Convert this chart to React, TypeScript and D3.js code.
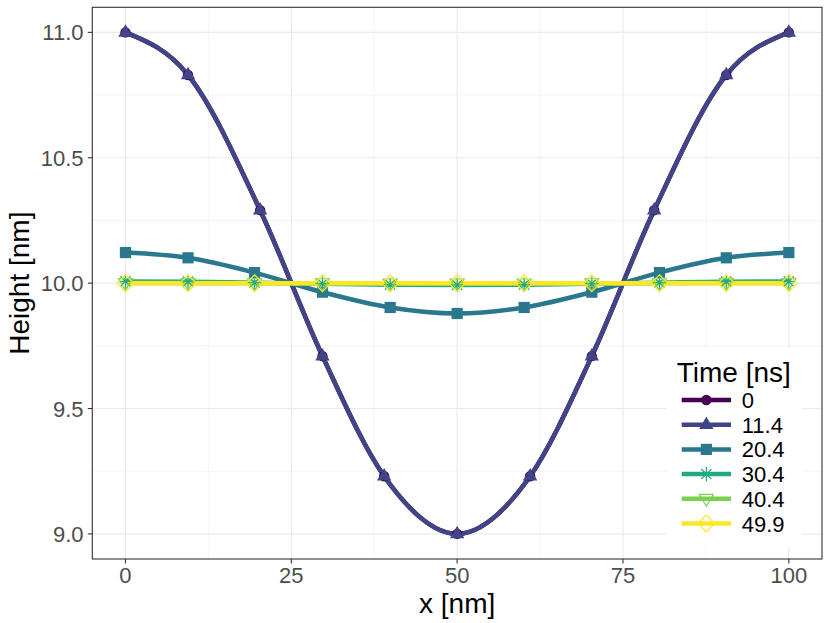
import React from "react";
import * as d3 from "d3";

// ---- data ----
const seriesLabels = ["0", "11.4", "20.4", "30.4", "40.4", "49.9"];
const seriesColors = ["#440154", "#414487", "#2A788E", "#22A884", "#7AD151", "#FDE725"];
const seriesShapes = ["circle", "triangle", "square", "asterisk", "triangleDown", "diamond"];

const xA = [0, 9.43, 20.3, 29.7, 39.0, 50, 61.0, 70.3, 79.7, 90.57, 100];
const xB = [0, 9.43, 19.45, 29.7, 39.9, 50, 60.1, 70.3, 80.5, 90.57, 100];

const h0 = [11.0, 10.83, 10.291, 9.709, 9.23, 9.0, 9.23, 9.709, 10.291, 10.83, 11.0];
const h11 = [11.0, 10.83, 10.291, 9.709, 9.23, 9.0, 9.23, 9.709, 10.291, 10.83, 11.0];
const h20 = [10.122, 10.101, 10.042, 9.964, 9.903, 9.879, 9.903, 9.964, 10.042, 10.101, 10.122];
const h30 = [10.007, 10.006, 10.002, 9.998, 9.994, 9.993, 9.994, 9.998, 10.002, 10.006, 10.007];
const h40 = [10.001, 10.001, 10.0, 10.0, 9.999, 9.999, 9.999, 10.0, 10.0, 10.001, 10.001];
const h49 = [10.0, 10.0, 10.0, 10.0, 10.0, 10.0, 10.0, 10.0, 10.0, 10.0, 10.0];

const seriesX = [xA, xA, xB, xB, xB, xB];
const seriesY = [h0, h11, h20, h30, h40, h49];

const xTicks = [0, 25, 50, 75, 100];
const xMinor = [12.5, 37.5, 62.5, 87.5];
const yTicks = [9.0, 9.5, 10.0, 10.5, 11.0];
const yMinor = [9.25, 9.75, 10.25, 10.75];

// ---- layout ----
const W = 830, H = 623;
const PL = 92.3, PR = 822, PT = 7.3, PB = 559;
const FONT = "'Liberation Sans', Arial, sans-serif";

function Marker({ shape, color, x, y }: { shape: string; color: string; x: number; y: number }) {
  const t = `translate(${x},${y})`;
  switch (shape) {
    case "circle":
      return <circle cx={x} cy={y} r={5.2} fill={color} />;
    case "triangle":
      return <path transform={t} d="M0,-8.2L7.2,4.3L-7.2,4.3Z" fill={color} />;
    case "square":
      return <rect x={x - 5.6} y={y - 5.6} width={11.2} height={11.2} fill={color} />;
    case "asterisk":
      return (
        <path
          transform={t}
          d="M0,-7.2V7.2M-7.2,0H7.2M-5.1,-5.1L5.1,5.1M-5.1,5.1L5.1,-5.1"
          stroke={color}
          strokeWidth={1.2}
          fill="none"
        />
      );
    case "triangleDown":
      return <path transform={t} d="M0,7.4L-7,-4.4L7,-4.4Z" stroke={color} strokeWidth={1.2} fill="none" />;
    case "diamond":
      return <path transform={t} d="M0,-8.4L8.2,0L0,8.4L-8.2,0Z" stroke={color} strokeWidth={1.2} fill="none" />;
    default:
      return null;
  }
}

export default function App() {
  const x = d3.scaleLinear().domain([-5, 105]).range([PL, PR]);
  const y = d3.scaleLinear().domain([8.9, 11.1]).range([PB, PT]);

  const line = d3
    .line<[number, number]>()
    .x((d) => x(d[0]))
    .y((d) => y(d[1]))
    .curve(d3.curveMonotoneX);

  const series = seriesLabels.map((lab, i) => ({
    lab,
    color: seriesColors[i],
    shape: seriesShapes[i],
    pts: seriesX[i].map((xv, j) => [xv, seriesY[i][j]] as [number, number]),
  }));

  // legend
  const legX = 667, legY = 349, legW = 135, legH = 198;
  const keyX0 = 681.7, keyX1 = 731;
  const rowY0 = 400, rowStep = 24.7;

  return (
    <svg width={W} height={H} style={{ position: "absolute", left: 0, top: 0 }} fontFamily={FONT}>
      <rect x={0} y={0} width={W} height={H} fill="white" />
      {/* minor grid */}
      {xMinor.map((v) => (
        <line key={"xm" + v} x1={x(v)} x2={x(v)} y1={PT} y2={PB} stroke="#EBEBEB" strokeWidth={0.6} />
      ))}
      {yMinor.map((v) => (
        <line key={"ym" + v} x1={PL} x2={PR} y1={y(v)} y2={y(v)} stroke="#EBEBEB" strokeWidth={0.6} />
      ))}
      {/* major grid */}
      {xTicks.map((v) => (
        <line key={"xg" + v} x1={x(v)} x2={x(v)} y1={PT} y2={PB} stroke="#EBEBEB" strokeWidth={1.2} />
      ))}
      {yTicks.map((v) => (
        <line key={"yg" + v} x1={PL} x2={PR} y1={y(v)} y2={y(v)} stroke="#EBEBEB" strokeWidth={1.2} />
      ))}

      {/* lines */}
      {series.map((s) => (
        <path key={"l" + s.lab} d={line(s.pts) || ""} fill="none" stroke={s.color} strokeWidth={4.5} strokeLinejoin="round" />
      ))}
      {/* points */}
      {series.map((s) => (
        <g key={"p" + s.lab}>
          {s.pts.map((p, j) => (
            <Marker key={j} shape={s.shape} color={s.color} x={x(p[0])} y={y(p[1])} />
          ))}
        </g>
      ))}

      {/* legend */}
      <rect x={legX} y={legY} width={legW} height={legH} fill="white" />
      <text x={676.7} y={381.7} fontSize={28} fill="black">
        Time [ns]
      </text>
      {series.map((s, i) => {
        const cy = rowY0 + i * rowStep;
        return (
          <g key={"leg" + s.lab}>
            <line x1={keyX0} x2={keyX1} y1={cy} y2={cy} stroke={s.color} strokeWidth={4.5} />
            <Marker shape={s.shape} color={s.color} x={(keyX0 + keyX1) / 2} y={cy} />
            <text x={741.7} y={cy + 8} fontSize={22} fill="black">
              {s.lab}
            </text>
          </g>
        );
      })}

      {/* panel border */}
      <rect x={PL} y={PT} width={PR - PL} height={PB - PT} fill="none" stroke="#333333" strokeWidth={1.1} />

      {/* axes ticks */}
      {xTicks.map((v) => (
        <g key={"xt" + v}>
          <line x1={x(v)} x2={x(v)} y1={PB} y2={PB + 4.5} stroke="#333333" strokeWidth={1.1} />
          <text x={x(v)} y={583.3} fontSize={22} fill="#4D4D4D" textAnchor="middle">
            {v}
          </text>
        </g>
      ))}
      {yTicks.map((v) => (
        <g key={"yt" + v}>
          <line x1={PL - 4.5} x2={PL} y1={y(v)} y2={y(v)} stroke="#333333" strokeWidth={1.1} />
          <text x={83.5} y={y(v) + 8} fontSize={22} fill="#4D4D4D" textAnchor="end">
            {v.toFixed(1)}
          </text>
        </g>
      ))}

      {/* axis titles */}
      <text x={(PL + PR) / 2} y={613.3} fontSize={28} fill="black" textAnchor="middle">
        x [nm]
      </text>
      <text
        transform={`translate(28.5,${(PT + PB) / 2}) rotate(-90)`}
        fontSize={28}
        fill="black"
        textAnchor="middle"
      >
        Height [nm]
      </text>
    </svg>
  );
}
